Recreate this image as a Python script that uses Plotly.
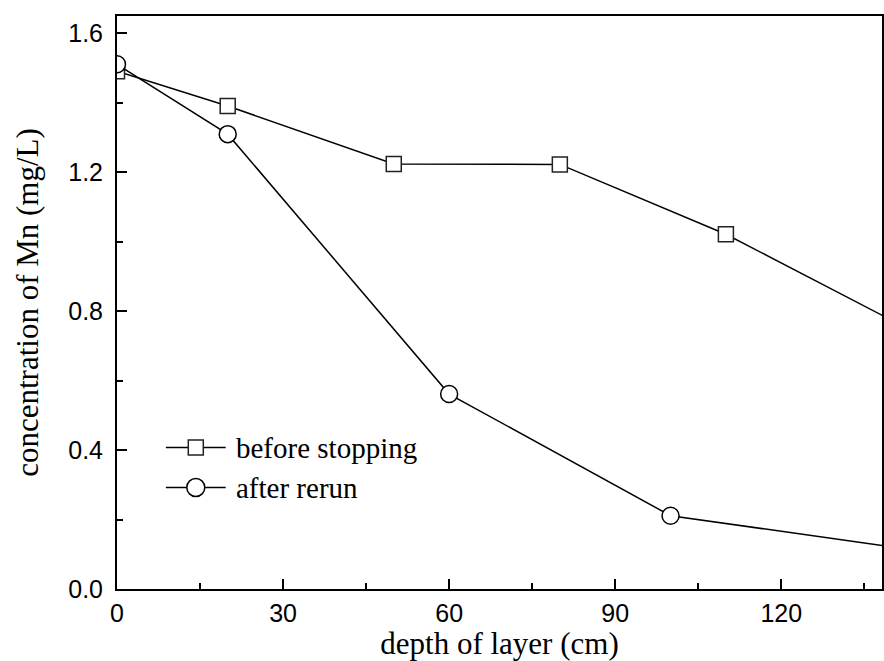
import plotly.graph_objects as go

depth_before = [0, 20, 50, 80, 110, 140]
mn_before = [1.49, 1.39, 1.223, 1.222, 1.021, 0.773]
depth_after = [0, 20, 60, 100, 140]
mn_after = [1.51, 1.309, 0.561, 0.211, 0.121]

names = ["before stopping", "after rerun"]
x_ticks = [0, 30, 60, 90, 120]
y_ticks = [0.0, 0.4, 0.8, 1.2, 1.6]

fig = go.Figure()
fig.add_trace(go.Scatter(
    x=depth_before, y=mn_before, mode="lines+markers", name=names[0],
    line=dict(color="black", width=1.5),
    marker=dict(symbol="square", size=15, color="white", line=dict(color="#222", width=1.5)),
    cliponaxis=True, showlegend=False))
fig.add_trace(go.Scatter(
    x=depth_after, y=mn_after, mode="lines+markers", name=names[1],
    line=dict(color="black", width=1.5),
    marker=dict(symbol="circle", size=17, color="white", line=dict(color="black", width=1.5)),
    cliponaxis=True, showlegend=False))

# manual legend (pixel-anchored in paper coords)
W, H = 884, 661
L, R, T, B = 117, 0, 16, 72
pw, ph = W - L - R, H - T - B

def px(x):
    return (x - L) / pw

def py(y):
    return (H - B - y) / ph

shapes = []
annotations = []
rows = [(447.5, "square"), (487.5, "circle")]
for (yy, sym), nm in zip(rows, names):
    shapes.append(dict(type="line", xref="paper", yref="paper", x0=px(166), x1=px(226),
                       y0=py(yy), y1=py(yy), line=dict(color="black", width=1.5), layer="above"))
    if sym == "square":
        shapes.append(dict(type="rect", xref="paper", yref="paper", xsizemode="pixel", ysizemode="pixel",
                           xanchor=px(196), yanchor=py(yy), x0=-7.5, x1=7.5, y0=-7.5, y1=7.5,
                           fillcolor="white", line=dict(color="#222", width=1.5), layer="above"))
    else:
        shapes.append(dict(type="circle", xref="paper", yref="paper", xsizemode="pixel", ysizemode="pixel",
                           xanchor=px(196), yanchor=py(yy), x0=-9, x1=9, y0=-9, y1=9,
                           fillcolor="white", line=dict(color="black", width=1.5), layer="above"))
    annotations.append(dict(xref="paper", yref="paper", x=px(234), y=py(yy), xanchor="left", yanchor="middle",
                            text=nm, showarrow=False,
                            font=dict(family="Liberation Serif, Times New Roman, serif", size=29, color="black")))

fig.update_layout(
    width=W, height=H,
    margin=dict(l=L, r=R, t=T, b=B, pad=0),
    paper_bgcolor="white", plot_bgcolor="white",
    shapes=shapes, annotations=annotations,
    showlegend=False,
)
fig.update_xaxes(
    range=[0, 138.2], tickvals=x_ticks, ticktext=[str(v) for v in x_ticks],
    ticks="inside", ticklen=10, tickwidth=2, tickcolor="black",
    minor=dict(ticks="inside", ticklen=6, tickwidth=2, tickcolor="black", dtick=15),
    showline=True, linewidth=2, linecolor="black", mirror=True,
    showgrid=False, zeroline=False,
    tickfont=dict(family="Liberation Sans, Arial, sans-serif", size=25, color="black"),
    ticklabelstandoff=1,
    title=dict(text="depth of layer (cm)", standoff=0,
               font=dict(family="Liberation Serif, Times New Roman, serif", size=31, color="black")),
)
fig.update_yaxes(
    range=[0, 1.649], tickvals=y_ticks, ticktext=[f"{v:.1f}" for v in y_ticks],
    ticks="inside", ticklen=10, tickwidth=2, tickcolor="black",
    minor=dict(ticks="inside", ticklen=6, tickwidth=2, tickcolor="black", dtick=0.2),
    showline=True, linewidth=2, linecolor="black", mirror=True,
    showgrid=False, zeroline=False,
    tickfont=dict(family="Liberation Sans, Arial, sans-serif", size=25, color="black"),
    ticklabelstandoff=7,
    title=dict(text="concentration of Mn (mg/L)", standoff=20,
               font=dict(family="Liberation Serif, Times New Roman, serif", size=31, color="black")),
)
fig.write_html("out.html", config={"displayModeBar": False},
               post_script="document.body.style.margin='0px';")
